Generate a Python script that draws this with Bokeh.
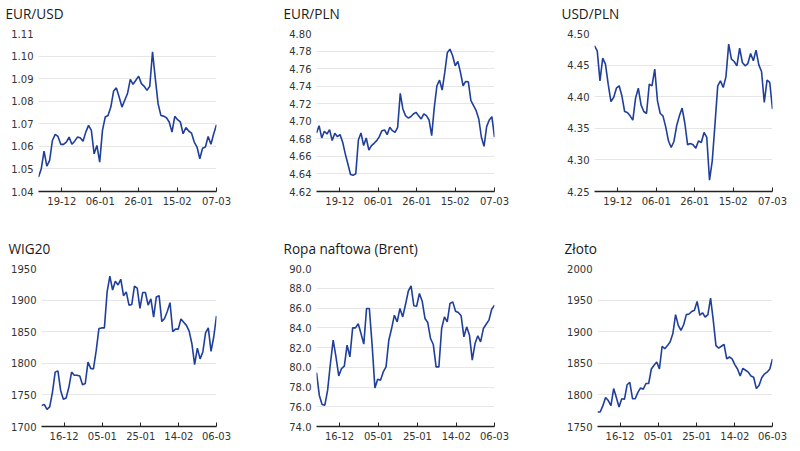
from bokeh.plotting import figure
from bokeh.layouts import column, row
from bokeh.models import Range1d, FixedTicker, NumeralTickFormatter, Title
from bokeh.embed import file_html
from bokeh.resources import INLINE

# ---------------- data ----------------
TOP_TICK_LABELS = ["19-12", "06-01", "26-01", "15-02", "07-03"]
BOTTOM_TICK_LABELS = ["16-12", "05-01", "25-01", "14-02", "06-03"]

eurusd = [1.0464, 1.0501, 1.0579, 1.0512, 1.0538, 1.0626, 1.0653, 1.0644, 1.0609, 1.0609,
          1.0619, 1.0641, 1.0609, 1.0623, 1.0641, 1.0638, 1.0623, 1.0663, 1.0693, 1.0671,
          1.0567, 1.0604, 1.0530, 1.0671, 1.0730, 1.0737, 1.0774, 1.0845, 1.0859, 1.0819,
          1.0774, 1.0804, 1.0834, 1.0897, 1.0875, 1.0893, 1.0911, 1.0878, 1.0866, 1.0848,
          1.0866, 1.1019, 1.0900, 1.0789, 1.0737, 1.0734, 1.0727, 1.0708, 1.0663, 1.0733,
          1.0718, 1.0708, 1.0656, 1.0683, 1.0668, 1.0659, 1.0619, 1.0597, 1.0545, 1.0592,
          1.0597, 1.0644, 1.0609, 1.0656, 1.0696]
eurusd_yticks = [1.04, 1.05, 1.06, 1.07, 1.08, 1.09, 1.10, 1.11]

eurpln = [4.6867, 4.6950, 4.6810, 4.6886, 4.6855, 4.6905, 4.6780, 4.6863, 4.6825, 4.6848,
          4.6761, 4.6628, 4.6514, 4.6393, 4.6386, 4.6401, 4.6787, 4.6867, 4.6723, 4.6810,
          4.6673, 4.6723, 4.6749, 4.6780, 4.6825, 4.6893, 4.6901, 4.6848, 4.6931, 4.6893,
          4.6874, 4.6931, 4.7318, 4.7140, 4.7064, 4.7037, 4.7052, 4.7083, 4.7102, 4.7064,
          4.7026, 4.7083, 4.7064, 4.7015, 4.6836, 4.7159, 4.7405, 4.7469, 4.7356, 4.7557,
          4.7784, 4.7822, 4.7746, 4.7632, 4.7682, 4.7557, 4.7405, 4.7454, 4.7450, 4.7234,
          4.7178, 4.7121, 4.7026, 4.6818, 4.6715, 4.6939, 4.7015, 4.7052, 4.6818]
eurpln_yticks = [4.62, 4.64, 4.66, 4.68, 4.70, 4.72, 4.74, 4.76, 4.78, 4.80]

usdpln = [4.4805, 4.4726, 4.4251, 4.4610, 4.4515, 4.4198, 4.3924, 4.3987, 4.4135, 4.4172,
          4.4014, 4.3766, 4.3750, 4.3697, 4.3629, 4.3977, 4.4135, 4.3871, 4.3766, 4.3734,
          4.4198, 4.4172, 4.4436, 4.3935, 4.3734, 4.3697, 4.3523, 4.3302, 4.3196, 4.3291,
          4.3539, 4.3697, 4.3819, 4.3576, 4.3239, 4.3260, 4.3239, 4.3186, 4.3302, 4.3275,
          4.3434, 4.3355, 4.2679, 4.2985, 4.3566, 4.4172, 4.4251, 4.4146, 4.4314, 4.4831,
          4.4594, 4.4557, 4.4488, 4.4768, 4.4541, 4.4488, 4.4525, 4.4684, 4.4568, 4.4736,
          4.4504, 4.4399, 4.3908, 4.4262, 4.4225, 4.3803]
usdpln_yticks = [4.25, 4.30, 4.35, 4.40, 4.45, 4.50]

wig20 = [1733, 1735, 1727, 1731, 1754, 1786, 1788, 1757, 1743, 1745,
         1762, 1786, 1781, 1781, 1780, 1766, 1768, 1802, 1792, 1791,
         1820, 1855, 1856, 1856, 1913, 1938, 1916, 1930, 1924, 1933,
         1907, 1913, 1892, 1893, 1922, 1919, 1887, 1912, 1912, 1892,
         1902, 1873, 1905, 1907, 1866, 1871, 1882, 1896, 1850, 1854,
         1854, 1870, 1865, 1860, 1851, 1831, 1798, 1824, 1807, 1818,
         1848, 1856, 1819, 1842, 1875]
wig20_yticks = [1700, 1750, 1800, 1850, 1900, 1950]

brent = [79.47, 77.17, 76.23, 76.16, 77.68, 80.38, 82.74, 81.05, 79.13, 79.87,
         80.11, 82.24, 81.05, 83.99, 83.99, 84.40, 83.42, 82.34, 85.95, 85.95,
         82.24, 77.91, 78.79, 78.69, 79.53, 80.04, 82.74, 83.92, 85.27, 84.60,
         85.95, 85.10, 86.35, 87.70, 88.24, 86.22, 86.18, 87.47, 86.69, 84.94,
         84.53, 82.91, 82.30, 80.04, 80.04, 83.92, 85.10, 84.60, 86.46, 86.62,
         85.68, 85.54, 85.21, 83.08, 84.09, 83.25, 80.72, 82.40, 83.18, 82.57,
         83.92, 84.36, 84.77, 85.88, 86.29]
brent_yticks = [74.0, 76.0, 78.0, 80.0, 82.0, 84.0, 86.0, 88.0, 90.0]

zloto = [1773, 1773, 1783, 1796, 1791, 1783, 1810, 1796, 1781, 1794,
         1793, 1816, 1820, 1794, 1794, 1804, 1811, 1809, 1818, 1818,
         1841, 1847, 1852, 1841, 1877, 1873, 1878, 1884, 1897, 1927,
         1910, 1902, 1911, 1927, 1928, 1932, 1934, 1948, 1926, 1930,
         1923, 1927, 1953, 1918, 1878, 1874, 1877, 1880, 1857, 1860,
         1857, 1848, 1841, 1830, 1842, 1839, 1836, 1830, 1828, 1810,
         1815, 1827, 1833, 1836, 1841, 1857]
zloto_yticks = [1750, 1800, 1850, 1900, 1950, 2000]

# relative positions of the date ticks along each series
TOP_TICK_FRACS = [0.131, 0.347, 0.563, 0.779, 1.0]
BOTTOM_TICK_FRACS = [0.129, 0.348, 0.567, 0.785, 1.0]

LINE_COLOR = "#1f3f9b"
TEXT_COLOR = "#333333"


def make(title, vals, yticks, fmt, fracs, labels, width, height, bl, br, bt, bb):
    n = len(vals)
    xs = list(range(n))
    p = figure(width=width, height=height, output_backend="svg", toolbar_location=None,
               min_border_left=bl, min_border_right=br, min_border_top=bt, min_border_bottom=bb,
               x_range=Range1d(0, n - 1), y_range=Range1d(yticks[0], yticks[-1]))

    # empty spacer next to the frame, then the real title above it
    p.add_layout(Title(text=" ", text_font_size="1px", standoff=4), "above")
    p.add_layout(Title(text=title, align="left", vertical_align="top", offset=-33,
                       text_font="Open Sans", text_font_size="13.6px", text_font_style="normal",
                       text_color="#1a1a1a", standoff=4), "above")

    xt = [round(f * (n - 1), 2) for f in fracs]
    p.xaxis.ticker = FixedTicker(ticks=xt, minor_ticks=[])
    p.xaxis.major_label_overrides = {t: lab for t, lab in zip(xt, labels)}
    p.xaxis.axis_line_color = "#222222"
    p.xaxis.axis_line_width = 1.4
    p.xaxis.major_tick_line_color = "#222222"
    p.xaxis.major_tick_in = 4
    p.xaxis.major_tick_out = 0
    p.xaxis.minor_tick_line_color = None
    p.xaxis.major_label_standoff = 5
    p.xaxis.major_label_text_font = "DejaVu Sans"
    p.xaxis.major_label_text_font_size = "10px"
    p.xaxis.major_label_text_color = TEXT_COLOR

    p.yaxis.ticker = FixedTicker(ticks=yticks, minor_ticks=[])
    p.yaxis.formatter = NumeralTickFormatter(format=fmt)
    p.yaxis.axis_line_color = None
    p.yaxis.major_tick_line_color = None
    p.yaxis.minor_tick_line_color = None
    p.yaxis.major_tick_in = 0
    p.yaxis.major_tick_out = 0
    p.yaxis.major_label_standoff = 5
    p.yaxis.major_label_text_font = "DejaVu Sans"
    p.yaxis.major_label_text_font_size = "10px"
    p.yaxis.major_label_text_color = TEXT_COLOR

    p.xgrid.visible = False
    p.ygrid.grid_line_color = "#e6e6e6"
    p.ygrid.grid_line_width = 1
    p.outline_line_color = None
    p.background_fill_color = "white"
    p.border_fill_color = "white"

    p.line(xs, vals, line_color=LINE_COLOR, line_width=1.6)
    return p


f1 = make("EUR/USD", eurusd, eurusd_yticks, "0.00", TOP_TICK_FRACS, TOP_TICK_LABELS, 280, 235, 38, 64, 33, 44)
f2 = make("EUR/PLN", eurpln, eurpln_yticks, "0.00", TOP_TICK_FRACS, TOP_TICK_LABELS, 280, 235, 36, 66, 33, 44)
f3 = make("USD/PLN", usdpln, usdpln_yticks, "0.00", TOP_TICK_FRACS, TOP_TICK_LABELS, 240, 235, 34, 28, 33, 44)
f4 = make("WIG20", wig20, wig20_yticks, "0", BOTTOM_TICK_FRACS, BOTTOM_TICK_LABELS, 280, 216, 41, 64, 33, 25)
f5 = make("Ropa naftowa (Brent)", brent, brent_yticks, "0.0", BOTTOM_TICK_FRACS, BOTTOM_TICK_LABELS, 280, 216, 36, 66, 33, 25)
f6 = make("Złoto", zloto, zloto_yticks, "0", BOTTOM_TICK_FRACS, BOTTOM_TICK_LABELS, 240, 216, 37, 28, 33, 25)

layout = column(row(f1, f2, f3), row(f4, f5, f6))

open("out.html", "w").write(file_html(layout, INLINE))
